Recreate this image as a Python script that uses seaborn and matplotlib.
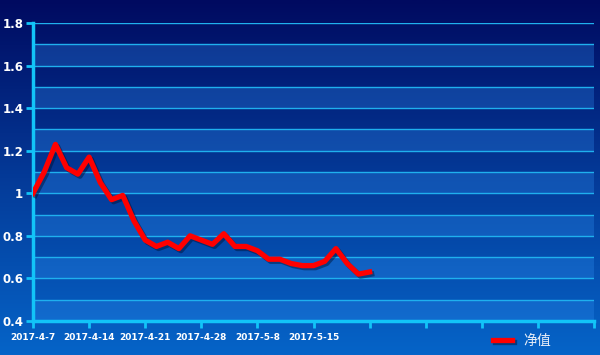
import numpy as np
import matplotlib
matplotlib.use("Agg")
import matplotlib.pyplot as plt
import matplotlib.patheffects as pe
import seaborn as sns
import pandas as pd

# category axis: 51 slots, only 31 carry data, labels every 5th slot
n_slots = 51
tick_labels = ["2017-4-7", "2017-4-14", "2017-4-21", "2017-4-28", "2017-5-8",
               "2017-5-15", "", "", "", "", ""]
nav = [1.00, 1.10, 1.23, 1.12, 1.09, 1.17, 1.05, 0.97, 0.99, 0.87, 0.78,
       0.75, 0.77, 0.74, 0.80, 0.78, 0.76, 0.81, 0.75, 0.75, 0.73,
       0.69, 0.69, 0.67, 0.66, 0.66, 0.68, 0.74, 0.67, 0.62, 0.63]
series_name = "净值"

df = pd.DataFrame({"idx": range(len(nav)), "nav": nav})

fig = plt.figure(figsize=(6, 3.55), dpi=100)

# gradient background over the whole figure
bg = fig.add_axes([0, 0, 1, 1], zorder=-10)
grad = np.linspace(0, 1, 256).reshape(-1, 1)
cmap = matplotlib.colors.LinearSegmentedColormap.from_list("bg", ["#000a60", "#043a98", "#0664c8"])
bg.imshow(grad, aspect="auto", cmap=cmap, extent=[0, 1, 0, 1], origin="upper")
bg.axis("off")

ax = fig.add_axes([0.055, 0.096, 0.935, 0.839])
ax.set_facecolor("none")

# alternating bands and grid
for lo in np.arange(0.4, 1.7, 0.2):
    ax.axhspan(lo, lo + 0.1, color="#2f8ef0", alpha=0.3, lw=0, zorder=0)
for v in np.arange(0.5, 1.81, 0.1):
    ax.axhline(v, color="#1fb0ee", lw=1, zorder=1)

sns.lineplot(data=df, x="idx", y="nav", ax=ax, color="#ff0000", lw=3.8, zorder=5,
             label=series_name, legend=False,
             path_effects=[pe.SimpleLineShadow(offset=(1.5, -1.5), shadow_color="#001030", alpha=0.45),
                           pe.Normal()])

ax.set_xlim(0, n_slots - 1)
ax.set_ylim(0.4, 1.8)
ax.set_yticks(np.arange(0.4, 1.81, 0.2))
ax.set_yticklabels(["0.4", "0.6", "0.8", "1", "1.2", "1.4", "1.6", "1.8"])
ax.set_xticks(range(0, n_slots, 5))
ax.set_xticklabels(tick_labels)
ax.set_xlabel("")
ax.set_ylabel("")

for s in ["top", "right"]:
    ax.spines[s].set_visible(False)
for s in ["left", "bottom"]:
    ax.spines[s].set_color("#12c4f8")
    ax.spines[s].set_linewidth(2.5)
ax.tick_params(axis="both", colors="#12c4f8", width=2, length=5)
ax.tick_params(axis="y", pad=2)
for lab in ax.get_yticklabels():
    lab.set_color("white")
    lab.set_fontweight("bold")
    lab.set_fontsize(8.5)
for lab in ax.get_xticklabels():
    lab.set_color("white")
    lab.set_fontweight("bold")
    lab.set_fontsize(6.5)

leg = fig.legend(handles=ax.get_lines()[-1:], labels=[series_name], loc="center",
                 bbox_to_anchor=(0.87, 0.04), frameon=False, handlelength=1.4,
                 prop={"family": ["Noto Sans CJK SC", "DejaVu Sans"], "size": 10})
for t in leg.get_texts():
    t.set_color("#e8eef8")

fig.savefig("out.png", dpi=100)
